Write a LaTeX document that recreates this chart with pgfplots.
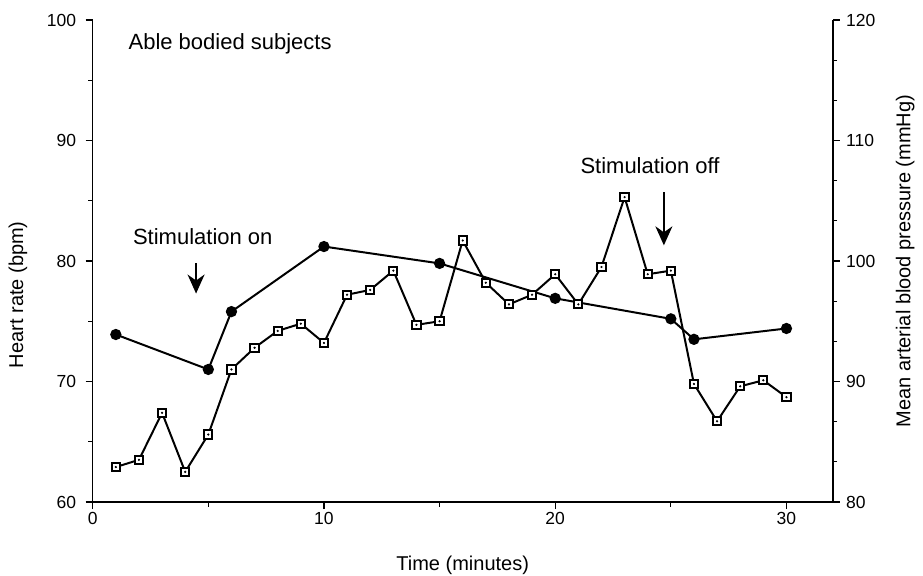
\documentclass[border=0pt]{standalone}
\usepackage{fontspec}
\setmainfont{Liberation Sans}
\usepackage{pgfplots}
\usepackage{pgfplotstable}
\pgfplotsset{compat=1.18}
\usetikzlibrary{arrows.meta}

% heart rate (bpm), left axis
\pgfplotstableread{
t hr
1 73.9
5 71.0
6 75.8
10 81.2
15 79.8
20 76.9
25 75.2
26 73.5
30 74.4
}\hrdata

% mean arterial blood pressure (mmHg), right axis
\pgfplotstableread{
t map
1 82.9
2 83.5
3 87.4
4 82.5
5 85.6
6 91.0
7 92.8
8 94.2
9 94.8
10 93.2
11 97.2
12 97.6
13 99.2
14 94.7
15 95.0
16 101.7
17 98.2
18 96.4
19 97.2
20 98.9
21 96.4
22 99.5
23 105.3
24 98.9
25 99.2
26 89.8
27 86.7
28 89.6
29 90.1
30 88.7
}\mapdata

\pgfplotsset{
  base/.style={
    scale only axis, width=740bp, height=482bp,
    xmin=0, xmax=32,
    tick align=outside,
    major tick length=7bp, minor tick length=4.5bp,
    every tick/.style={black, line width=1.2pt},
    axis line style={line width=1.6pt},
    tick label style={font=\fontsize{17.5bp}{20bp}\selectfont},
    label style={font=\fontsize{20bp}{24bp}\selectfont},
    /pgf/number format/assume math mode=true,
  }
}

\begin{document}
\begin{tikzpicture}
\useasboundingbox (-92.7bp,-74bp) rectangle (830.3bp,502bp);

\begin{axis}[base,
  axis x line*=bottom, axis y line*=left,
  ymin=60, ymax=100,
  xtick={0,10,20,30}, minor x tick num=1,
  ytick={60,70,80,90,100}, minor y tick num=1,
  yticklabel style={xshift=-6bp},
  xlabel={Time (minutes)},
  ylabel={Heart rate (bpm)},
  xlabel style={at={(axis description cs:0.5,-0.131)}, anchor=center},
  ylabel style={at={(axis description cs:-0.101,0.43)}, anchor=center},
]
\addplot[black, line width=2pt, mark=*, mark size=4.6bp] table[x=t, y=hr] {\hrdata};

\node[anchor=west, font=\fontsize{22bp}{26bp}\selectfont] at (axis cs:1.4,98.0) {Able bodied subjects};
\node[font=\fontsize{22bp}{26bp}\selectfont] at (axis cs:4.76,82.0) {Stimulation on};
\node[font=\fontsize{22bp}{26bp}\selectfont] at (axis cs:24.1,87.9) {Stimulation off};
\draw[line width=1.5pt, -{Stealth[length=19bp, width=17bp, inset=6bp]}] (axis cs:4.47,79.8) -- (axis cs:4.47,77.3);
\draw[line width=1.5pt, -{Stealth[length=19bp, width=17bp, inset=6bp]}] (axis cs:24.7,85.7) -- (axis cs:24.7,81.3);
\end{axis}

\begin{axis}[base,
  axis y line*=right, axis x line=none,
  ymin=80, ymax=120,
  ytick={80,90,100,110,120}, minor y tick num=2,
  yticklabel style={xshift=3bp},
  ylabel={Mean arterial blood pressure (mmHg)},
  ylabel style={at={(axis description cs:1.098,0.5)}, anchor=center, rotate=0},
]
\addplot[black, line width=2pt, mark=square*, mark size=4.1bp,
  mark options={fill=white, line width=2pt}] table[x=t, y=map] {\mapdata};
\addplot[only marks, mark=*, mark size=0.9bp, black] table[x=t, y=map] {\mapdata};
\end{axis}
\end{tikzpicture}
\end{document}
